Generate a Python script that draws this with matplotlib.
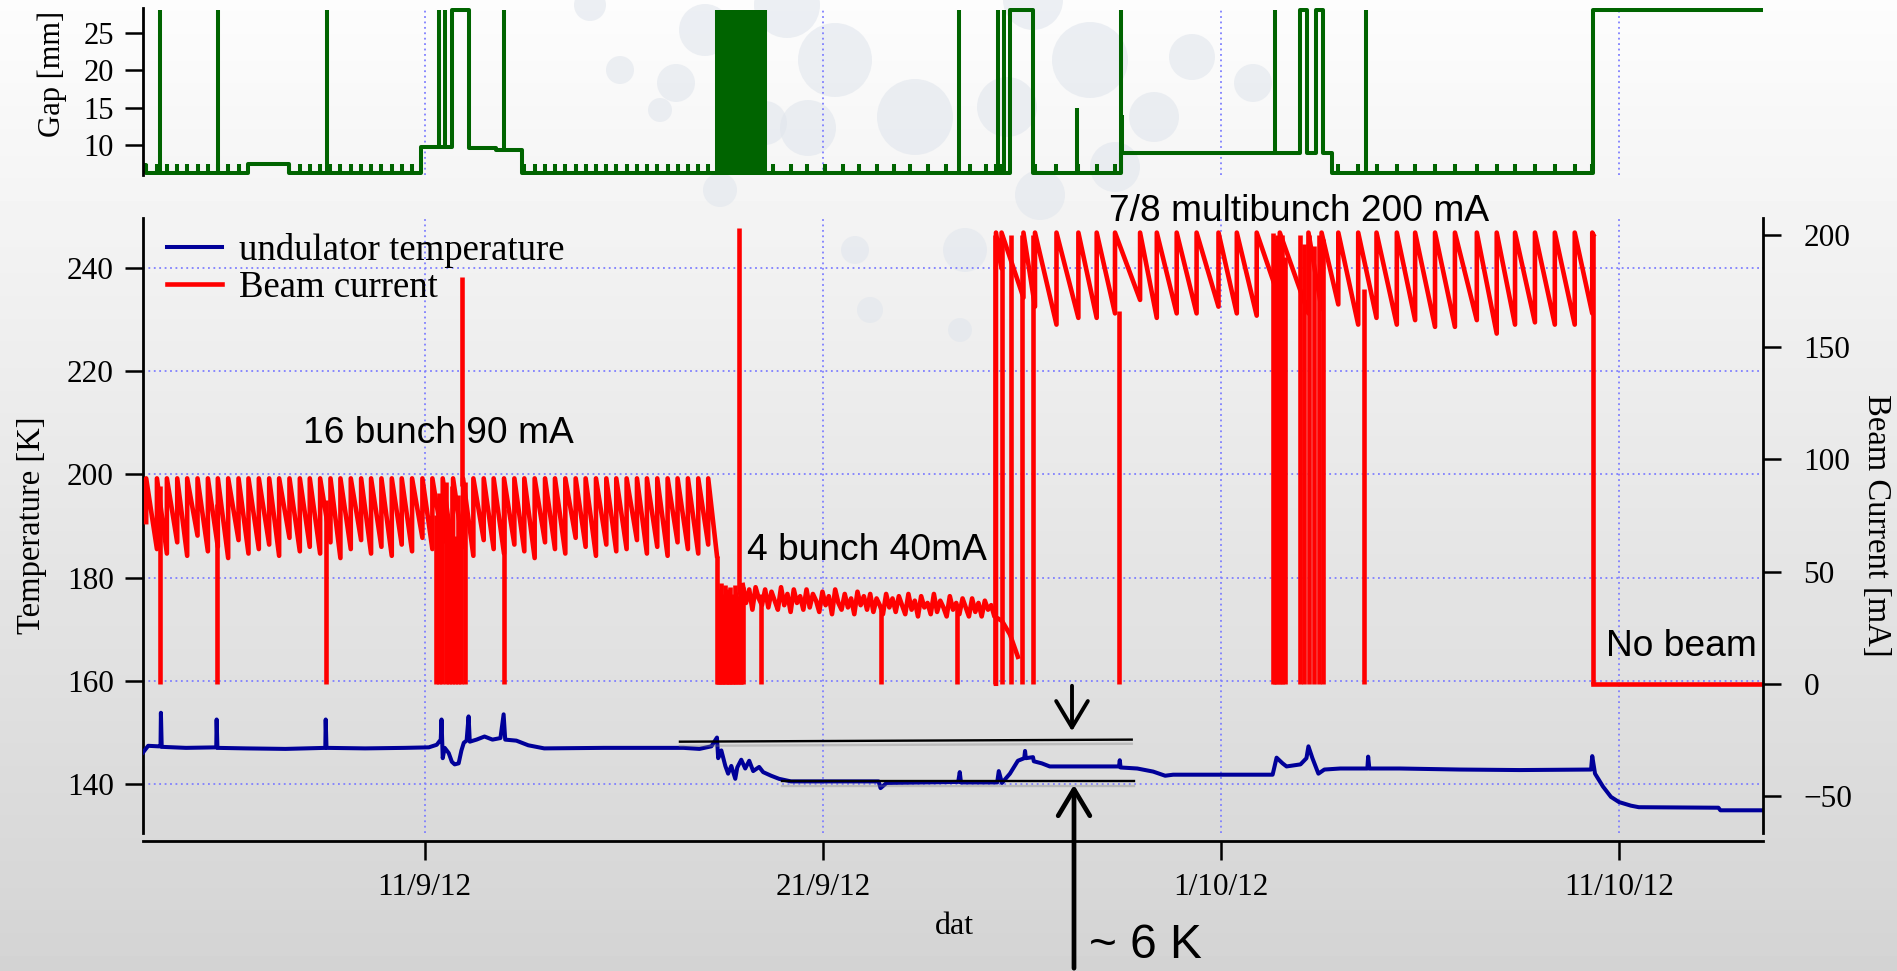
import numpy as np
import matplotlib.pyplot as plt
import matplotlib.patheffects as pe
from matplotlib.patches import Circle

plt.rcParams['font.family'] = ['Liberation Serif', 'DejaVu Serif']
SANS = ['Liberation Sans', 'DejaVu Sans']

# time axis: days since 1 Sep 2012 00:00
date_ticks = [10, 20, 30, 40]
date_labels = ["11/9/12", "21/9/12", "1/10/12", "11/10/12"]
t_first, t_last = 2.92, 43.62

temp_ticks = [140, 160, 180, 200, 220, 240]
current_ticks = [-50, 0, 50, 100, 150, 200]
gap_ticks = [10, 15, 20, 25]

# beam current, 16 bunch mode: top-up times and current just before each top-up [mA]
fill16_t = [3.00, 3.27, 3.52, 3.78, 4.03, 4.29, 4.55, 4.80, 5.06, 5.32,
            5.57, 5.83, 6.09, 6.34, 6.60, 6.86, 7.11, 7.37, 7.63, 7.88,
            8.14, 8.40, 8.65, 8.91, 9.17, 9.42, 9.68, 9.94, 10.19, 10.45,
            10.71, 10.96, 11.22, 11.48, 11.73, 11.99, 12.25, 12.50, 12.76, 13.02,
            13.27, 13.53, 13.79, 14.04, 14.30, 14.56, 14.81, 15.07, 15.33, 15.58,
            15.84, 16.10, 16.35, 16.61, 16.87, 17.12]
fill16_low = [72, 60, 58, 63, 57, 66, 59, 61, 56, 64,
              58, 60, 62, 57, 65, 59, 61, 58, 63, 56,
              60, 64, 58, 61, 57, 62, 59, 65, 60, 63,
              58, 61, 57, 64, 60, 58, 62, 59, 56, 63,
              60, 58, 65, 61, 57, 62, 59, 60, 64, 58,
              61, 57, 63, 60, 58, 62]
fill16_top = 91.5
fill16_stop = (17.34, 57)

# 4 bunch mode [mA]
bunch4_t = [17.99, 18.07, 18.15, 18.23, 18.31, 18.39, 18.47, 18.55, 18.63, 18.71,
            18.79, 18.87, 18.95, 19.03, 19.11, 19.19, 19.27, 19.35, 19.43, 19.51,
            19.59, 19.67, 19.75, 19.83, 19.91, 19.99, 20.07, 20.15, 20.23, 20.31,
            20.39, 20.47, 20.55, 20.63, 20.71, 20.79, 20.87, 20.95, 21.03, 21.11,
            21.19, 21.27, 21.35, 21.43, 21.51, 21.59, 21.67, 21.75, 21.83, 21.91,
            21.99, 22.07, 22.15, 22.23, 22.31, 22.39, 22.47, 22.55, 22.63, 22.71,
            22.79, 22.87, 22.95, 23.03, 23.11, 23.19, 23.27, 23.35, 23.43, 23.51,
            23.59, 23.67, 23.75, 23.83, 23.91, 23.99, 24.07, 24.15, 24.23, 24.31,
            24.50, 24.70, 24.80, 24.90]
bunch4_i = [44, 36, 42, 33, 43, 38, 35, 42, 34, 41,
            37, 33, 43, 35, 40, 32, 42, 36, 39, 33,
            42, 34, 40, 37, 32, 41, 35, 39, 31, 42,
            36, 33, 40, 34, 38, 31, 41, 35, 39, 33,
            40, 32, 38, 35, 31, 40, 34, 38, 32, 39,
            35, 31, 40, 33, 37, 30, 39, 34, 36, 31,
            40, 32, 37, 34, 30, 39, 33, 36, 31, 38,
            34, 30, 38, 32, 36, 30, 37, 33, 35, 30,
            28, 22, 17, 12]

# 7/8 multibunch mode: top-up times and current just before each top-up [mA]
fillmb_t = [24.35, 24.49, 25.04, 25.33, 25.87, 26.42, 26.88, 27.34, 27.97, 28.39,
            28.89, 29.39, 29.94, 30.40, 30.90, 31.48, 32.20, 32.53, 32.95, 33.45,
            33.91, 34.42, 34.88, 35.38, 35.88, 36.43, 36.93, 37.39, 37.89, 38.39,
            38.89, 39.33]
fillmb_low = [0, 185, 172, 168, 160, 163, 163, 165, 171, 163,
              165, 165, 168, 165, 164, 171, 165, 167, 169, 160,
              163, 160, 162, 159, 159, 162, 156, 160, 161, 160,
              160, 165]
fillmb_top = 201
fillmb_stop = (39.36, 200)

# beam losses: time and current before the loss [mA]
loss_t = [3.34, 4.77, 7.51, 10.28, 10.36, 10.44, 10.52, 10.60, 10.68, 10.76,
          10.84, 10.92, 11.00, 11.98, 17.34, 17.37, 17.40, 17.44, 17.47, 17.50,
          17.54, 17.57, 17.61, 17.64, 17.68, 17.72, 17.75, 17.79, 17.83, 17.87,
          17.91, 17.95, 17.99, 18.44, 21.45, 23.37, 24.32, 24.50, 24.72, 25.00,
          25.28, 27.44, 31.30, 31.36, 31.42, 31.48, 31.54, 31.60, 31.98, 32.10,
          32.22, 32.34, 32.46, 32.56, 33.59, 39.36]
loss_from = [88, 80, 82, 75, 85, 70, 90, 72, 88, 66,
             84, 74, 90, 78, 57, 42, 38, 45, 40, 36,
             44, 39, 42, 37, 43, 40, 38, 44, 41, 39,
             42, 40, 43, 40, 33, 34, 200, 200, 200, 200,
             200, 166, 201, 198, 200, 195, 200, 190, 200, 196,
             200, 195, 200, 198, 176, 200]
# short injection spikes
spike_t = [10.93, 17.90]
spike_from = [88, 40]
spike_to = [181, 203]

# undulator temperature [K]
temp_t = [2.92, 3.05, 3.30, 3.36, 3.37, 3.39, 4.00, 4.76, 4.77, 4.79,
          5.50, 6.50, 7.50, 7.51, 7.53, 8.50, 9.50, 10.10, 10.30, 10.40,
          10.42, 10.45, 10.50, 10.60, 10.68, 10.75, 10.85, 10.92, 10.98, 11.05,
          11.10, 11.13, 11.30, 11.50, 11.70, 11.90, 11.98, 12.02, 12.30, 12.60,
          13.00, 14.50, 16.50, 16.90, 17.20, 17.34, 17.37, 17.45, 17.55, 17.62,
          17.70, 17.80, 17.85, 17.95, 18.05, 18.15, 18.25, 18.40, 18.50, 18.70,
          18.90, 19.20, 21.40, 21.45, 21.60, 23.40, 23.44, 23.47, 24.38, 24.42,
          24.50, 24.70, 24.90, 25.06, 25.08, 25.10, 25.28, 25.30, 25.50, 25.70,
          27.44, 27.46, 27.48, 27.90, 28.30, 28.60, 28.80, 31.30, 31.40, 31.55,
          31.65, 32.00, 32.15, 32.20, 32.30, 32.45, 32.60, 33.00, 33.68, 33.70,
          33.73, 34.50, 36.00, 37.50, 39.30, 39.33, 39.40, 39.60, 39.80, 40.00,
          40.30, 40.50, 42.50, 42.55, 43.62]
temp_K = [146.1, 147.4, 147.3, 147.3, 153.8, 147.2, 147.0, 147.1, 152.5, 147.0,
          146.9, 146.8, 147.0, 152.5, 147.0, 146.9, 147.0, 147.1, 147.6, 148.6,
          152.5, 145.0, 147.0, 146.0, 144.3, 143.8, 144.0, 146.5, 148.0, 148.4,
          153.1, 148.2, 148.6, 149.2, 148.6, 148.9, 153.5, 148.6, 148.4, 147.5,
          146.9, 147.0, 147.0, 146.8, 147.3, 149.0, 145.0, 146.5, 143.5, 142.0,
          143.5, 141.0, 143.2, 144.7, 143.0, 144.5, 142.5, 143.3, 142.3, 141.6,
          141.0, 140.5, 140.5, 139.2, 140.2, 140.4, 142.3, 140.3, 140.3, 142.5,
          140.2, 142.0, 144.5, 145.0, 146.4, 145.0, 145.2, 144.4, 144.0, 143.4,
          143.4, 144.6, 143.2, 143.0, 142.4, 141.6, 141.8, 141.8, 145.1, 144.0,
          143.4, 143.8, 145.0, 147.3, 145.0, 142.0, 142.8, 143.0, 143.0, 145.3,
          143.0, 143.0, 142.8, 142.7, 142.8, 145.4, 142.0, 139.5, 137.5, 136.5,
          135.8, 135.5, 135.4, 134.9, 134.9]

# undulator gap [mm]: level changes
gap_step_t = [2.92, 3.00, 5.55, 6.60, 9.90, 10.68, 11.10, 11.80, 12.45, 24.70,
              25.28, 27.50, 31.98, 32.16, 32.40, 32.56, 32.80, 39.35, 43.62]
gap_step_mm = [7.3, 6.3, 7.5, 6.3, 9.7, 28.0, 9.6, 9.3, 6.3, 28.0,
               6.3, 8.9, 28.0, 8.9, 28.0, 8.9, 6.3, 28.0, 28.0]
gap_open = 28.0
gap_open_t = [3.34, 4.80, 7.54, 10.35, 10.50, 11.98, 23.42, 24.40, 24.55, 27.49,
              31.36, 33.64]
gap_burst_t = [17.34, 17.38, 17.42, 17.46, 17.50, 17.54, 17.58, 17.62, 17.66, 17.70,
               17.74, 17.78, 17.82, 17.86, 17.90, 17.94, 17.98, 18.02, 18.06, 18.10,
               18.14, 18.18, 18.22, 18.26, 18.30, 18.34, 18.38, 18.42, 18.46, 18.50,
               18.54]
gap_part_t = [26.38, 27.52]
gap_part_mm = [15.0, 14.0]
# short gap openings during 4 bunch injections
gap4_t = [18.75, 19.20, 19.60, 20.05, 20.50, 20.90, 21.35, 21.80, 22.20, 22.65,
          23.10, 23.70, 24.10]
gap_tick = 1.2

# --- layout (figure pixels, top-left origin) ---
W, H = 1897, 971
bubbles = [(590, 5, 16), (620, 70, 14), (660, 110, 12), (676, 83, 19), (705, 30, 26),
           (720, 190, 17), (765, 123, 22), (787, 5, 33), (808, 128, 28), (835, 60, 37),
           (855, 250, 14), (870, 310, 13), (915, 117, 38), (960, 330, 12), (965, 250, 22),
           (1007, 107, 30), (1040, 195, 25), (1090, 60, 38), (1115, 167, 25),
           (1154, 117, 25), (1192, 57, 23), (1253, 83, 19), (1033, 0, 30)]


def rect(x0, y0, x1, y1):
    return [x0 / W, 1 - y1 / H, (x1 - x0) / W, (y1 - y0) / H]


def sawtooth(times, lows, top, stop):
    xs, ys = [], []
    for t, lo in zip(times, lows):
        xs += [t, t]
        ys += [lo, top]
    xs.append(stop[0])
    ys.append(stop[1])
    return xs, ys


def gap_level(t):
    k = np.searchsorted(gap_step_t, t, side='right') - 1
    return gap_step_mm[k]


fig = plt.figure(figsize=(W / 100, H / 100), dpi=100)

# slide background
bg = fig.add_axes([0, 0, 1, 1], zorder=-10)
shade = np.linspace(0.99, 0.83, 256)[:, None]
bg.imshow(shade, cmap='gray', vmin=0, vmax=1, aspect='auto', extent=[0, W, H, 0])
for bx, by, br in bubbles:
    bg.add_patch(Circle((bx, by), br, color='#e1e6ed', alpha=0.6, lw=0))
bg.set_xlim(0, W)
bg.set_ylim(H, 0)
bg.axis('off')

grid_kw = dict(color='#7f7fff', linestyle=(0, (1, 2)), linewidth=1.3)
red = '#ff0000'
green = '#006400'
LW_RED, LW_BLUE, LW_GREEN = 3.3, 2.9, 2.9

# ---- main panel ----
ax = fig.add_axes(rect(143, 218, 1763, 833))
ax.set_facecolor('none')
ax2 = ax.twinx()

temp_line, = ax.plot(temp_t, temp_K, color='#000099', lw=LW_BLUE, zorder=3)

x16, y16 = sawtooth(fill16_t, fill16_low, fill16_top, fill16_stop)
cur_line, = ax2.plot(x16, y16, color=red, lw=LW_RED)
ax2.plot(bunch4_t, bunch4_i, color=red, lw=LW_RED)
xmb, ymb = sawtooth(fillmb_t, fillmb_low, fillmb_top, fillmb_stop)
ax2.plot(xmb, ymb, color=red, lw=LW_RED)
ax2.plot([fillmb_stop[0], t_last], [0, 0], color=red, lw=LW_RED)
ax2.vlines(loss_t, 0, loss_from, color=red, lw=LW_RED)
ax2.vlines(spike_t, spike_from, spike_to, color=red, lw=LW_RED)

ax.set_xlim(t_first, t_last)
ax.set_ylim(130.5, 249.7)
ax2.set_ylim(-66.5, 207.5)
ax.set_yticks(temp_ticks)
ax2.set_yticks(current_ticks)
ax.set_xticks(date_ticks)
ax.set_xticklabels(date_labels)

ax.grid(True, **grid_kw)
ax.set_axisbelow(True)

for s in ['top', 'right']:
    ax.spines[s].set_visible(False)
for s in ['top', 'left', 'bottom']:
    ax2.spines[s].set_visible(False)
ax.spines['left'].set_linewidth(2)
ax.spines['bottom'].set_linewidth(2)
ax.spines['bottom'].set_position(('outward', 6))
ax2.spines['right'].set_linewidth(2)

ax.tick_params(axis='y', direction='out', length=13, width=1.8, labelsize=22.5, pad=8)
ax.tick_params(axis='x', direction='out', length=13.5, width=1.8, labelsize=22.5, pad=9)
ax2.tick_params(axis='y', direction='out', length=13, width=1.8, labelsize=22.5, pad=16)

ax.set_ylabel('Temperature [K]', fontsize=23.5, va='center')
ax.yaxis.set_label_coords(-0.0685, 0.5)
ax2.set_ylabel('Beam Current [mA]', fontsize=23.5, rotation=270, va='center')
ax2.yaxis.set_label_coords(1.0698, 0.5)
ax.set_xlabel('dat', fontsize=23, va='center')
ax.xaxis.set_label_coords(0.5006, -0.1528)

ax2.legend([temp_line, cur_line], ['undulator temperature', 'Beam current'],
           loc='upper left', bbox_to_anchor=(0.0148, 0.975), frameon=False,
           fontsize=26.5, borderpad=0, borderaxespad=0, handlelength=1.5,
           handletextpad=0.45, labelspacing=0.05)

ann_kw = dict(fontsize=26.7, family=SANS, ha='center', va='baseline')
ax.text(10.33, 206.1, '16 bunch 90 mA', **ann_kw)
ax.text(21.1, 183.5, '4 bunch 40mA', **ann_kw)
ax.text(31.96, 249.1, '7/8 multibunch 200 mA', **ann_kw)
ax.text(41.56, 164.9, 'No beam', **ann_kw)

# ~6 K step marker
shadow = [pe.SimpleLineShadow(offset=(0, -3), shadow_color='#808080', alpha=0.35),
          pe.Normal()]
ax.plot([16.41, 27.76], [148.2, 148.6], color='k', lw=1.7, zorder=4,
        path_effects=shadow)
ax.plot([18.97, 27.81], [140.5, 140.5], color='k', lw=1.7, zorder=4,
        path_effects=shadow)
ax.annotate('', xy=(1072, H - 734), xytext=(1072, H - 683), xycoords='figure pixels',
            arrowprops=dict(arrowstyle='->,head_length=0.5,head_width=0.3',
                            lw=2.8, color='k', mutation_scale=38),
            annotation_clip=False)
ax.annotate('', xy=(1074, H - 782), xytext=(1074, 0), xycoords='figure pixels',
            arrowprops=dict(arrowstyle='->,head_length=0.5,head_width=0.3',
                            lw=3.4, color='k', mutation_scale=38),
            annotation_clip=False)
fig.text(1089 / W, (H - 958) / H, '~ 6 K', fontsize=34.5, family=SANS, va='baseline')

# ---- gap panel ----
gax = fig.add_axes(rect(143, 8, 1763, 175))
gax.set_facecolor('none')
gax.step(gap_step_t, gap_step_mm, where='post', color=green, lw=LW_GREEN)
tick_t = [t for t in fill16_t + gap4_t + fillmb_t if gap_level(t) < 7]
tick_base = [gap_level(t) for t in tick_t]
gax.vlines(tick_t, tick_base, np.array(tick_base) + gap_tick, color=green, lw=LW_GREEN)
gax.vlines(gap_open_t, [gap_level(t) for t in gap_open_t], gap_open, color=green, lw=LW_GREEN)
gax.vlines(gap_burst_t, 6.3, gap_open, color=green, lw=LW_GREEN)
gax.vlines(gap_part_t, [gap_level(t) for t in gap_part_t], gap_part_mm, color=green, lw=LW_GREEN)

gax.set_xlim(t_first, t_last)
gax.set_ylim(6.0, 28.3)
gax.set_yticks(gap_ticks)
gax.set_xticks(date_ticks)
gax.tick_params(axis='x', length=0, labelbottom=False)
gax.tick_params(axis='y', direction='out', length=13, width=1.8, labelsize=22, pad=8)
gax.grid(True, axis='x', **grid_kw)
for s in ['top', 'right', 'bottom']:
    gax.spines[s].set_visible(False)
gax.spines['left'].set_linewidth(2)
gax.set_ylabel('Gap [mm]', fontsize=22, va='center')
gax.yaxis.set_label_coords(-0.056, 0.605)

fig.savefig('out.png', dpi=100)
